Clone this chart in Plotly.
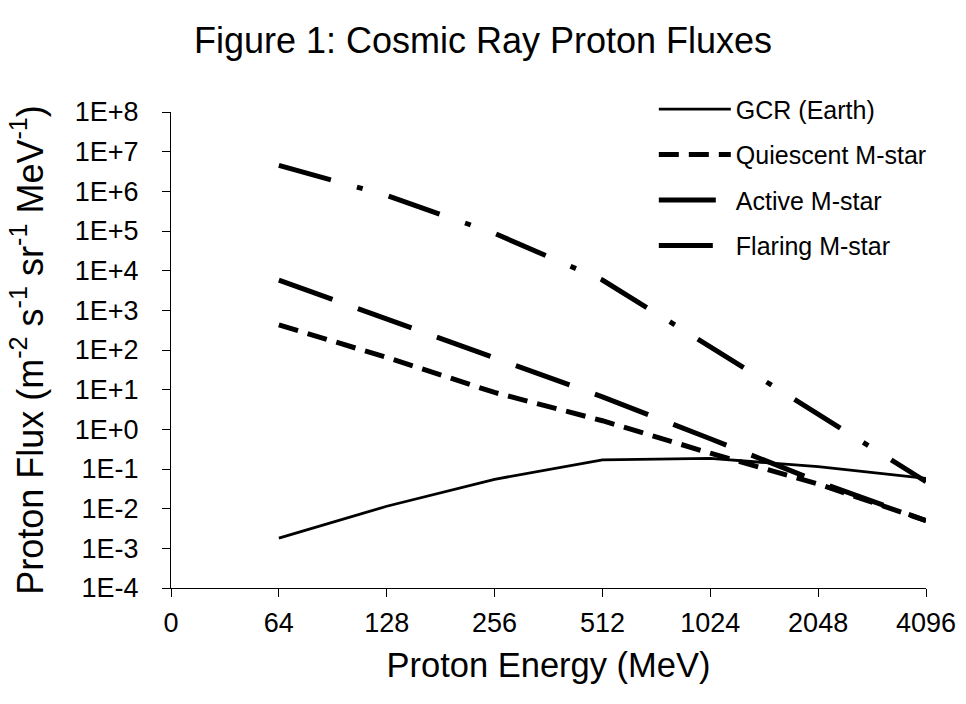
import numpy as np
import plotly.graph_objects as go

# ---- data ----
x_tick_labels = ["0", "64", "128", "256", "512", "1024", "2048", "4096"]
energy_mev = [64, 128, 256, 512, 1024, 2048, 4096]

gcr_earth = [1.8e-3, 1.15e-2, 5.5e-2, 0.17, 0.185, 0.115, 0.058]
quiescent_mstar = [430, 65, 8.5, 1.65, 0.25, 0.042, 0.0050]
active_mstar = [5800, 600, 62, 6.6, 0.58, 0.048, 0.0050]
flaring_mstar = [4.5e6, 7.9e5, 8.7e4, 5.8e3, 120, 2.4, 0.048]

y_tick_vals = [1e-4, 1e-3, 1e-2, 1e-1, 1e0, 1e1, 1e2, 1e3, 1e4, 1e5, 1e6, 1e7, 1e8]
y_tick_labels = ["1E-4", "1E-3", "1E-2", "1E-1", "1E+0", "1E+1", "1E+2",
                 "1E+3", "1E+4", "1E+5", "1E+6", "1E+7", "1E+8"]

# category positions on the doubling axis ("0" sits at position 0)
x_pos = [x_tick_labels.index(str(e)) for e in energy_mev]

FONT = "Liberation Sans, Arial, sans-serif"

fig = go.Figure()
series = [
    ("GCR (Earth)", gcr_earth, dict(width=2.8, dash="solid")),
    ("Quiescent M-star", quiescent_mstar, dict(width=5, dash="20px,10px")),
    ("Active M-star", active_mstar, dict(width=5, dash="57px,27px")),
    ("Flaring M-star", flaring_mstar, dict(width=5, dash="54px,27px,6px,27px")),
]
for i, (name, vals, ls) in enumerate(series):
    fig.add_trace(go.Scatter(
        x=x_pos, y=vals, mode="lines", name=name,
        line=dict(color="black", **ls),
        legendgroup=f"g{i}",
    ))

fig.update_layout(
    width=966, height=704,
    margin=dict(l=171, r=40, t=112, b=116, autoexpand=False),
    paper_bgcolor="white", plot_bgcolor="white",
    font=dict(family=FONT, color="black"),
    title=dict(text="Figure 1: Cosmic Ray Proton Fluxes",
               font=dict(size=36, family=FONT, color="black"),
               x=0.5, xanchor="center", xref="container",
               y=1 - 40 / 704, yanchor="middle", yref="container"),
    showlegend=True,
    legend=dict(x=0.6395, xanchor="left", y=1.054, yanchor="top",
                font=dict(size=25, family=FONT, color="black"),
                bgcolor="rgba(0,0,0,0)", traceorder="grouped",
                tracegroupgap=10, itemwidth=72),
)

fig.update_xaxes(
    range=[0, len(x_tick_labels) - 1],
    tickmode="array", tickvals=list(range(len(x_tick_labels))),
    ticktext=x_tick_labels,
    showgrid=False, zeroline=False,
    showline=True, linecolor="black", linewidth=1.3,
    ticks="outside", ticklen=8, tickcolor="black", tickwidth=1.3,
    tickfont=dict(size=27, family=FONT, color="black"),
    ticklabelstandoff=2,
    title=dict(text="Proton Energy (MeV)",
               font=dict(size=34.5, family=FONT, color="black"), standoff=16),
    automargin=False,
)
fig.update_yaxes(
    type="log", range=[-4, 8],
    tickmode="array", tickvals=y_tick_vals, ticktext=y_tick_labels,
    showgrid=False, zeroline=False,
    showline=True, linecolor="black", linewidth=1.3,
    ticks="outside", ticklen=8, tickcolor="black", tickwidth=1.3,
    tickfont=dict(size=27, family=FONT, color="black"),
    ticklabelstandoff=18,
    title=dict(text="Proton Flux (m<sup>-2</sup> s<sup>-1</sup> sr<sup>-1</sup> MeV<sup>-1</sup>)",
               font=dict(size=36, family=FONT, color="black"), standoff=20),
    automargin=False,
)

fig.write_html("out.html")
